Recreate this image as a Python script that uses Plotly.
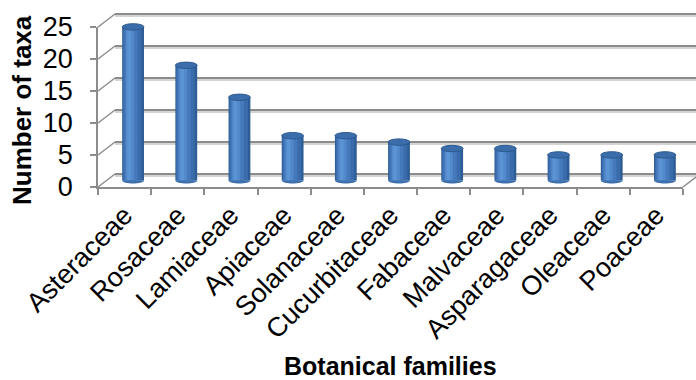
import plotly.graph_objects as go

# Number of taxa per botanical family
families = ["Asteraceae", "Rosaceae", "Lamiaceae", "Apiaceae", "Solanaceae",
            "Cucurbitaceae", "Fabaceae", "Malvaceae", "Asparagaceae",
            "Oleaceae", "Poaceae"]
taxa = [24, 18, 13, 7, 7, 6, 5, 5, 4, 4, 4]
y_ticks = [0, 5, 10, 15, 20, 25]

W, H = 696, 380
FONT = "Liberation Sans, Arial, sans-serif"
GRID = "#8c8c8c"

# pseudo-3D frame geometry (pixels)
FX0, FX1 = 98, 683          # front floor edge
FY0 = 187                   # front plane, value 0
PXU = 6.4                   # pixels per unit of y
DX, DY = 17, -13            # depth offset front -> back wall
n = len(families)


def ydom(base, lo, hi):
    return [1 - (base - lo * PXU) / H, 1 - (base - hi * PXU) / H]


def px(x, y):
    return x / W, 1 - y / H


fig = go.Figure()

# bar body: overlaid bars of shrinking width give a cylinder shading
layers = [
    (-0.205, 0.41, "#2e5c94"),
    (-0.19, 0.35, "#3a6cab"),
    (-0.165, 0.25, "#4579bb"),
    (-0.135, 0.15, "#5289cb"),
    (-0.11, 0.07, "#5b93d4"),
]
for off, wd, col in layers:
    fig.add_trace(go.Bar(
        x=families, y=taxa, offset=off, width=wd,
        marker=dict(color=col, line=dict(width=0)),
        xaxis="x4", yaxis="y4", showlegend=False, hoverinfo="x+y",
    ))

shapes = []
# cylinder bottoms and tops
for i, v in enumerate(taxa):
    a, b = i - 0.205, i + 0.205
    shapes.append(dict(
        type="path", xref="x4", yref="y4",
        path=f"M {a},0 C {a},-0.62 {b},-0.62 {b},0 Z",
        fillcolor="#3e70ad", line=dict(width=0), layer="above"))
    shapes.append(dict(
        type="circle", xref="x4", yref="y4",
        x0=a, x1=b, y0=v - 0.5, y1=v + 0.5,
        fillcolor="#3c6dab", line=dict(color="#2c5a91", width=1), layer="above"))

# connectors from the front value axis to the back wall
for v in y_ticks:
    x0, y0 = px(FX0, FY0 - v * PXU)
    x1, y1 = px(FX0 + DX, FY0 + DY - v * PXU)
    shapes.append(dict(type="line", xref="paper", yref="paper",
                       x0=x0, y0=y0, x1=x1, y1=y1,
                       line=dict(color=GRID, width=1.5)))
# right-hand floor edge
x0, y0 = px(FX1, FY0)
x1, y1 = px(FX1 + 13, FY0 - 10)
shapes.append(dict(type="line", xref="paper", yref="paper",
                   x0=x0, y0=y0, x1=x1, y1=y1,
                   line=dict(color=GRID, width=1.5)))

# invisible anchor traces so every subplot is drawn
for ax in ["", "2", "3"]:
    fig.add_trace(go.Scatter(x=[families[0]] if ax == "3" else [0], y=[0],
                             xaxis="x" + ax, yaxis="y" + ax, mode="markers",
                             marker=dict(opacity=0), showlegend=False,
                             hoverinfo="skip"))

back_base = FY0 + DY
grid_rng = [-0.3, 25.3]
hidden_x = dict(visible=False, range=[0, 1], automargin=False)
tick_font = dict(size=27, family=FONT, color="black")

fig.update_layout(
    width=W, height=H,
    autosize=False,
    margin=dict(l=0, r=0, t=0, b=0, pad=0, autoexpand=False),
    paper_bgcolor="white", plot_bgcolor="rgba(0,0,0,0)",
    barmode="overlay",
    font=dict(family=FONT, color="black"),
    # back wall gridlines: soft shadow then main line
    xaxis=dict(hidden_x, domain=[(FX0 + DX) / W, 1.0], anchor="y"),
    yaxis=dict(domain=ydom(back_base + 1.6, *grid_rng), range=grid_rng, anchor="x",
               tickvals=y_ticks, showticklabels=False, showgrid=True,
               gridcolor="#d4d4d4", gridwidth=2, zeroline=False, ticks="",
               automargin=False),
    xaxis2=dict(hidden_x, domain=[(FX0 + DX) / W, 1.0], anchor="y2"),
    yaxis2=dict(domain=ydom(back_base, *grid_rng), range=grid_rng, anchor="x2",
                tickvals=y_ticks, showticklabels=False, showgrid=True,
                gridcolor=GRID, gridwidth=1.5, zeroline=False, ticks="",
                automargin=False),
    # front axes with labels
    xaxis3=dict(domain=[FX0 / W, FX1 / W], anchor="y3", type="category",
                categoryorder="array", categoryarray=families,
                range=[-0.5, n - 0.5], showgrid=False, zeroline=False,
                showline=True, linecolor=GRID, linewidth=1.5,
                ticks="outside", tickson="boundaries", ticklen=6,
                tickcolor=GRID, tickwidth=1.5, tickangle=-45,
                tickfont=tick_font, automargin=False),
    yaxis3=dict(domain=ydom(FY0, 0, 25), range=[0, 25], anchor="x3",
                tickvals=y_ticks, showgrid=False, zeroline=False,
                showline=True, linecolor=GRID, linewidth=1.5,
                ticks="outside", ticklen=6, tickcolor=GRID, tickwidth=1.5,
                ticklabelstandoff=12, tickfont=tick_font, automargin=False),
    # bars sit halfway into the depth
    xaxis4=dict(domain=[(FX0 + DX / 2) / W, (FX1 + DX / 2) / W], anchor="y4",
                type="category", categoryorder="array", categoryarray=families,
                range=[-0.5, n - 0.5], visible=False, automargin=False),
    yaxis4=dict(domain=ydom(FY0 + DY / 2, -1, 25), range=[-1, 25], anchor="x4",
                visible=False, automargin=False),
    shapes=shapes,
    annotations=[
        dict(text="<b>Number of taxa</b>", textangle=-90, xref="paper", yref="paper",
             x=22 / W, y=1 - 110 / H, showarrow=False,
             font=dict(size=26, family=FONT, color="black"),
             xanchor="center", yanchor="middle"),
        dict(text="<b>Botanical families</b>", xref="paper", yref="paper",
             x=(FX0 + FX1) / 2 / W, y=1 - 366 / H, showarrow=False,
             font=dict(size=25, family=FONT, color="black"),
             xanchor="center", yanchor="middle"),
    ],
)

fig.write_html("out.html")
